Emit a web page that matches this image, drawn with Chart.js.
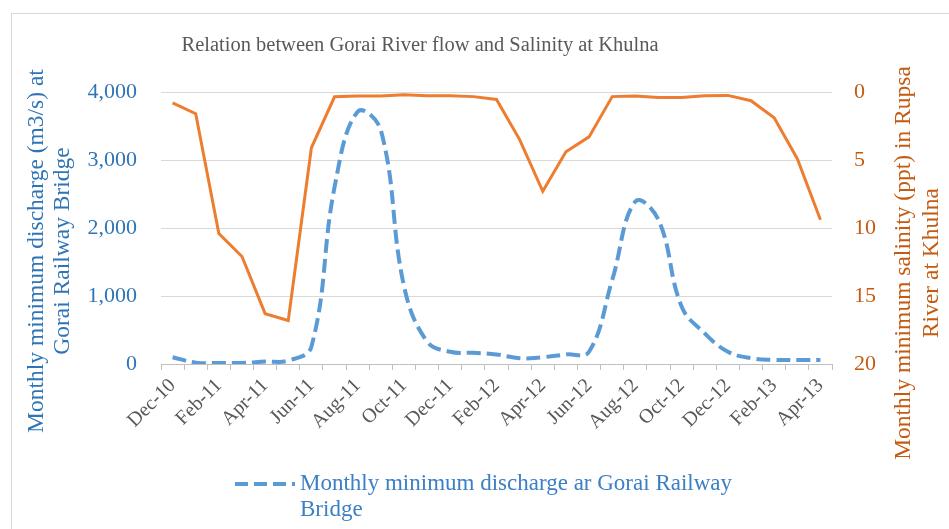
<!DOCTYPE html>
<html>
<head>
<meta charset="utf-8">
<script src="https://cdn.jsdelivr.net/npm/chart.js@4"></script>
<style>
  html, body { margin: 0; padding: 0; background: #fff; }
  #wrap { width: 949px; height: 529px; }
</style>
</head>
<body>
<div id="wrap"><canvas id="lineChart" width="949" height="529"></canvas></div>
<script>
// data
var months = ["Dec-10", "Jan-11", "Feb-11", "Mar-11", "Apr-11", "May-11", "Jun-11", "Jul-11", "Aug-11", "Sep-11",
  "Oct-11", "Nov-11", "Dec-11", "Jan-12", "Feb-12", "Mar-12", "Apr-12", "May-12", "Jun-12", "Jul-12",
  "Aug-12", "Sep-12", "Oct-12", "Nov-12", "Dec-12", "Jan-13", "Feb-13", "Mar-13", "Apr-13"];
var discharge = [100, 20, 15, 15, 35, 50, 255, 2600, 3710, 3440,
  1150, 330, 180, 165, 140, 85, 100, 140, 180, 1235,
  2390, 2120, 845, 450, 180, 85, 60, 60, 60];
var salinity = [0.8, 1.6, 10.4, 12.1, 16.3, 16.8, 4.1, 0.35, 0.3, 0.3,
  0.2, 0.27, 0.27, 0.34, 0.55, 3.5, 7.3, 4.4, 3.3, 0.34,
  0.3, 0.4, 0.4, 0.27, 0.25, 0.64, 1.9, 4.9, 9.4];
var dischargeTicks = [0, 1000, 2000, 3000, 4000];
var salinityTicks = [0, 5, 10, 15, 20];

var serif = "'Liberation Serif', 'Times New Roman', serif";
var blue = '#5B9BD5', orange = '#ED7D31';
var blueText = '#2F75B5', orangeText = '#C55A11';

// titles, axis titles, legend and frame drawn by hand
var decorations = {
  id: 'decorations',
  beforeDraw: function (chart) {
    var c = chart.ctx;
    c.save();
    c.strokeStyle = '#d9d9d9';
    c.lineWidth = 1;
    c.strokeRect(11.5, 13.5, 1000, 1000);
    c.restore();
  },
  afterDraw: function (chart) {
    var c = chart.ctx;
    c.save();
    c.textAlign = 'center';
    c.textBaseline = 'middle';

    c.fillStyle = '#595959';
    c.font = '20.5px ' + serif;
    c.fillText('Relation between Gorai River flow and Salinity at Khulna', 420, 46);

    c.font = '23.5px ' + serif;
    c.fillStyle = blueText;
    c.save();
    c.translate(37, 251);
    c.rotate(-Math.PI / 2);
    c.fillText('Monthly minimum discharge (m3/s) at', 0, 0);
    c.fillText('Gorai Railway Bridge', 0, 26);
    c.restore();

    c.fillStyle = orangeText;
    c.save();
    c.translate(904, 263);
    c.rotate(-Math.PI / 2);
    c.fillText('Monthly minimum salinity (ppt) in Rupsa', 0, 0);
    c.fillText('River at Khulna', 0, 28);
    c.restore();

    // legend
    c.strokeStyle = blue;
    c.lineWidth = 4;
    c.setLineDash([13, 6]);
    c.beginPath();
    c.moveTo(235, 484);
    c.lineTo(295, 484);
    c.stroke();
    c.setLineDash([]);
    c.fillStyle = '#3B7FC4';
    c.textAlign = 'left';
    c.font = '23px ' + serif;
    c.fillText('Monthly minimum discharge ar Gorai Railway', 300, 484);
    c.fillText('Bridge', 300, 510);
    c.restore();
  }
};

var ctx = document.getElementById("lineChart").getContext('2d');
var lineChart = new Chart(ctx, {
  type: 'line',
  data: {
    labels: months,
    datasets: [{
      label: 'Monthly minimum discharge ar Gorai Railway Bridge',
      data: discharge,
      yAxisID: 'y',
      fill: false,
      borderColor: blue,
      backgroundColor: blue,
      borderWidth: 4,
      borderDash: [14, 6],
      tension: 0.4,
      pointRadius: 0,
      order: 2
    },
    {
      label: 'Monthly minimum salinity',
      data: salinity,
      yAxisID: 'y1',
      fill: false,
      borderColor: orange,
      backgroundColor: orange,
      borderWidth: 3,
      tension: 0,
      pointRadius: 0,
      order: 1
    }]
  },
  options: {
    responsive: false,
    animation: false,
    layout: { padding: { top: 92, left: 0, right: 0, bottom: 0 } },
    plugins: {
      legend: { display: false },
      title: { display: false },
      tooltip: { enabled: false }
    },
    scales: {
      x: {
        offset: true,
        afterFit: function (s) { s.height = 529 - 364; },
        grid: { drawOnChartArea: false, color: '#bfbfbf', tickLength: 6, offset: true },
        border: { color: '#bfbfbf' },
        ticks: {
          autoSkip: false,
          minRotation: 45,
          maxRotation: 45,
          padding: 4,
          color: '#595959',
          font: { family: serif, size: 20 },
          callback: function (v, i) { return i % 2 === 0 ? months[i] : ''; }
        }
      },
      y: {
        position: 'left',
        min: 0,
        max: 4000,
        afterFit: function (s) { s.width = 161; },
        afterBuildTicks: function (s) { s.ticks = dischargeTicks.map(function (v) { return { value: v }; }); },
        grid: { color: '#d9d9d9', drawTicks: false },
        border: { display: false },
        ticks: {
          padding: 24,
          color: blueText,
          font: { family: serif, size: 22 },
          callback: function (v) { return v.toLocaleString('en-US'); }
        }
      },
      y1: {
        position: 'right',
        reverse: true,
        min: 0,
        max: 20,
        afterFit: function (s) { s.width = 949 - 832; },
        afterBuildTicks: function (s) { s.ticks = salinityTicks.map(function (v) { return { value: v }; }); },
        grid: { drawOnChartArea: false, drawTicks: false },
        border: { display: false },
        ticks: {
          padding: 22,
          color: orangeText,
          font: { family: serif, size: 22 }
        }
      }
    }
  },
  plugins: [decorations]
});
</script>
</body>
</html>
